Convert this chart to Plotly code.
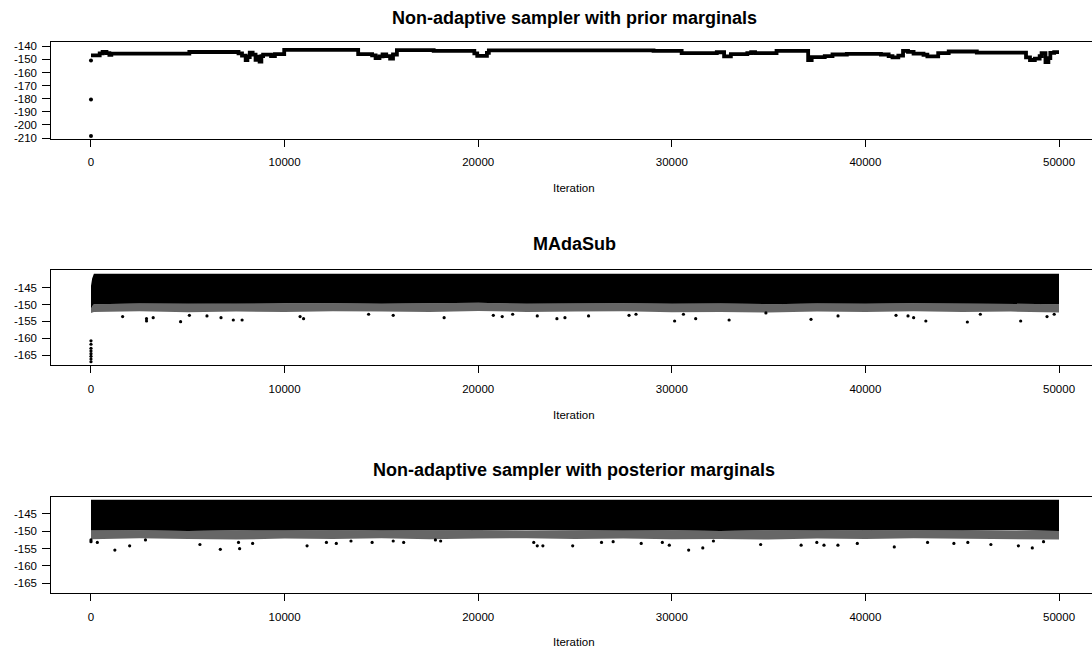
import plotly.graph_objects as go

# ---------------- data ----------------
# Panel 1: non-adaptive sampler with prior marginals (step-like trace)
p1_init_iter = [0, 0, 0]
p1_init_val = [-208.3, -180.5, -150.8]
p1_step_iter = [0, 450, 600, 800, 950, 1050, 5080, 7620, 7800, 7990, 8080, 8200, 8350, 8500, 8650,
                8710, 8800, 8890, 9300, 9500, 9980, 13800, 14520, 14700, 14900, 15060, 15250, 15450,
                15600, 15800, 17700, 19800, 19950, 20450, 20550, 29056, 30508, 32323, 32700, 33050,
                33900, 34100, 34300, 35409, 37042, 37224, 37900, 38300, 39039, 40800, 41200, 41398,
                41700, 41943, 42200, 42487, 43000, 43200, 43758, 44302, 45754, 48295, 48500, 48750,
                49000, 49100, 49300, 49450, 49550, 49750, 50000]
p1_step_val = [-147.0, -145.5, -144.4, -145.2, -146.6, -145.7, -144.4, -145.4, -147.2, -150.5, -148.2,
               -144.8, -146.4, -150.3, -148.0, -151.8, -147.5, -146.4, -147.5, -146.0, -142.8, -146.0,
               -147.0, -149.0, -147.8, -146.3, -147.5, -149.5, -146.3, -142.9, -143.6, -145.5, -147.3,
               -145.0, -143.1, -143.6, -145.2, -144.6, -147.8, -146.0, -145.3, -144.6, -145.3, -143.6,
               -150.5, -148.3, -147.5, -146.3, -145.8, -146.3, -147.5, -148.5, -147.2, -143.5, -144.3,
               -145.6, -146.5, -147.8, -145.3, -144.0, -144.8, -148.5, -150.5, -149.5, -147.5, -145.3,
               -152.0, -149.0, -145.0, -144.5, -144.5]

# Panel 2: MAdaSub (dense band)
p2_band_iter = [0, 60, 150, 2500, 5000, 7500, 10000, 12500, 15000, 17500, 20000, 22500, 25000,
                27500, 30000, 32500, 35000, 37500, 40000, 42500, 45000, 47500, 50000]
p2_band_top = [-144.5, -142.3, -140.9, -140.9, -140.9, -140.9, -140.9, -140.9, -140.9, -140.9,
               -140.9, -140.9, -140.9, -140.9, -140.9, -140.9, -140.9, -140.9, -140.9, -140.9,
               -140.9, -140.9, -140.9]
p2_band_solid = [-151.5, -150.5, -149.9, -149.7, -149.8, -149.6, -149.7, -149.6, -149.8, -149.7,
                 -149.5, -149.8, -149.7, -149.6, -149.8, -149.7, -149.9, -149.7, -149.8, -149.6,
                 -149.7, -149.8, -149.9]
p2_band_fringe = [-152.5, -152.3, -152.2, -152.0, -152.3, -152.1, -152.2, -152.0, -152.1, -152.2,
                  -151.9, -152.2, -152.1, -152.0, -152.3, -152.2, -152.4, -152.1, -152.2, -152.0,
                  -152.2, -152.1, -152.4]
p2_pt_iter = [0, 0, 0, 0, 0, 0, 0, 0, 1634, 2868, 2868, 3213, 4628, 5082, 5990, 6716, 7351, 7805,
              10800, 10980, 14340, 15610, 18240, 20780, 21240, 21780, 23050, 24065, 24480, 25700,
              27790, 28150, 30145, 30600, 31234, 32960, 34860, 37190, 38585, 41580, 42200, 42490,
              43120, 45265, 45935, 48020, 49380, 49750]
p2_pt_val = [-160.8, -161.8, -163.0, -163.8, -164.6, -165.4, -166.2, -167.0, -153.6, -154.2, -154.9,
             -153.9, -155.1, -153.2, -153.4, -153.9, -154.6, -154.6, -153.6, -154.2, -152.9, -153.2,
             -153.9, -153.2, -153.6, -152.9, -153.4, -154.2, -153.9, -153.4, -153.2, -152.9, -154.9,
             -152.9, -154.2, -154.6, -152.5, -154.4, -153.4, -153.2, -153.4, -153.9, -154.9, -155.2,
             -152.9, -154.9, -153.6, -152.9]

# Panel 3: non-adaptive sampler with posterior marginals (dense band)
p3_band_iter = [0, 2500, 5000, 7500, 10000, 12500, 15000, 17500, 20000, 22500, 25000, 27500,
                30000, 32500, 35000, 37500, 40000, 42500, 45000, 47500, 50000]
p3_band_top = [-140.9, -140.9, -140.9, -140.9, -140.9, -140.9, -140.9, -140.9, -140.9, -140.9,
               -140.9, -140.9, -140.9, -140.9, -140.9, -140.9, -140.9, -140.9, -140.9, -140.9, -140.9]
p3_band_solid = [-149.8, -149.7, -149.9, -149.7, -149.8, -149.6, -149.8, -149.7, -149.6, -149.8,
                 -149.7, -149.8, -149.7, -149.9, -149.7, -149.8, -149.6, -149.7, -149.8, -149.7, -149.9]
p3_band_fringe = [-152.3, -152.0, -152.2, -152.4, -152.1, -152.2, -152.0, -152.3, -152.1, -152.0,
                  -152.2, -152.1, -152.3, -152.2, -152.4, -152.1, -152.2, -152.0, -152.1, -152.2, -152.4]
p3_pt_iter = [0, 0, 327, 1234, 1997, 2813, 5627, 6680, 7620, 7677, 8350, 11160, 12160, 12670,
              13430, 14520, 15610, 16150, 17790, 18060, 22870, 23050, 23340, 24880, 26370, 26970,
              28420, 29510, 29870, 30870, 31600, 32150, 34590, 36680, 37490, 37860, 38580, 39580,
              41490, 43210, 44570, 45290, 46480, 47900, 48620, 49200]
p3_pt_val = [-152.5, -153.0, -153.2, -155.4, -154.2, -152.5, -153.8, -155.2, -153.2, -155.0, -153.5,
             -154.2, -153.2, -153.5, -152.8, -153.2, -152.8, -153.2, -152.5, -152.8, -153.2, -154.2,
             -154.2, -154.2, -153.2, -153.0, -153.5, -153.2, -154.0, -155.4, -154.8, -152.8, -153.8,
             -154.0, -153.2, -154.0, -154.0, -153.5, -154.5, -153.2, -153.5, -153.2, -153.8, -154.2,
             -154.8, -153.0]

x_ticks = [0, 10000, 20000, 30000, 40000, 50000]
y1_ticks = [-140, -150, -160, -170, -180, -190, -200, -210]
y23_ticks = [-145, -150, -155, -160, -165]
titles = ["Non-adaptive sampler with prior marginals", "MAdaSub",
          "Non-adaptive sampler with posterior marginals"]
x_title = "Iteration"

# ---------------- figure ----------------
W, H = 1092, 655
FONT = "Liberation Sans, Arial, sans-serif"
fig = go.Figure()

def band(ax, xs, top, low, color):
    fig.add_trace(go.Scatter(
        x=list(xs) + list(xs)[::-1], y=list(top) + list(low)[::-1],
        fill="toself", fillcolor=color, mode="lines", line=dict(width=0),
        xaxis="x" + ax, yaxis="y" + ax, hoverinfo="skip", showlegend=False))

def pts(ax, xs, ys, size=3.2):
    fig.add_trace(go.Scatter(x=xs, y=ys, mode="markers",
                             marker=dict(color="black", size=size, line=dict(width=0)),
                             xaxis="x" + ax, yaxis="y" + ax, showlegend=False))

# panel 1
fig.add_trace(go.Scatter(x=p1_step_iter, y=p1_step_val, mode="lines",
                         line=dict(color="black", width=3.8, shape="hv"),
                         xaxis="x", yaxis="y", showlegend=False))
pts("", p1_init_iter, p1_init_val, 4)

# panel 2
band("2", p2_band_iter, p2_band_solid, p2_band_fringe, "rgba(0,0,0,0.6)")
band("2", p2_band_iter, p2_band_top, p2_band_solid, "black")
pts("2", p2_pt_iter, p2_pt_val)

# panel 3
band("3", p3_band_iter, p3_band_solid, p3_band_fringe, "rgba(0,0,0,0.6)")
band("3", p3_band_iter, p3_band_top, p3_band_solid, "black")
pts("3", p3_pt_iter, p3_pt_val)

# layout geometry (pixels)
left_px = 51.3
panels = [  # (top px, bottom px, y range)
    (42.3, 138.5, [-210.3, -137.0]),
    (270.3, 365.0, [-167.97, -139.84]),
    (497.3, 592.7, [-167.7, -140.2]),
]
x_range = [-2050, 51703]
tick_font = dict(family=FONT, size=11.5, color="black")

layout = dict(width=W, height=H, margin=dict(l=0, r=0, t=0, b=0),
              paper_bgcolor="white", plot_bgcolor="white", showlegend=False,
              annotations=[])
for i, (top, bot, yr) in enumerate(panels):
    sfx = "" if i == 0 else str(i + 1)
    ax_name = "x" + sfx
    ay_name = "y" + sfx
    layout["xaxis" + sfx] = dict(
        domain=[left_px / W, 1.0], range=x_range, anchor=ay_name,
        showline=True, linecolor="black", linewidth=1, mirror=True,
        ticks="outside", ticklen=7, tickcolor="black", tickwidth=1,
        tickvals=x_ticks, ticktext=[str(v) for v in x_ticks], tickfont=tick_font,
        ticklabelstandoff=6, showgrid=False, zeroline=False, automargin=False)
    layout["yaxis" + sfx] = dict(
        domain=[1 - bot / H, 1 - top / H], range=yr, anchor=ax_name,
        showline=True, linecolor="black", linewidth=1, mirror=False,
        ticks="outside", ticklen=8, tickcolor="black", tickwidth=1,
        tickvals=(y1_ticks if i == 0 else y23_ticks),
        ticktext=[str(v) for v in (y1_ticks if i == 0 else y23_ticks)],
        tickfont=tick_font, ticklabelstandoff=3,
        showgrid=False, zeroline=False, automargin=False)

title_y = [18, 244, 470]
label_y = [188, 415, 642]
cx = 574 / W
for i in range(3):
    layout["annotations"].append(dict(
        text="<b>" + titles[i] + "</b>", x=cx, y=1 - title_y[i] / H, xref="paper", yref="paper",
        xanchor="center", yanchor="middle", showarrow=False,
        font=dict(family=FONT, size=18, color="black")))
    layout["annotations"].append(dict(
        text=x_title, x=cx, y=1 - label_y[i] / H, xref="paper", yref="paper",
        xanchor="center", yanchor="middle", showarrow=False,
        font=dict(family=FONT, size=11.5, color="black")))

fig.update_layout(**layout)
fig.write_html("out.html")
